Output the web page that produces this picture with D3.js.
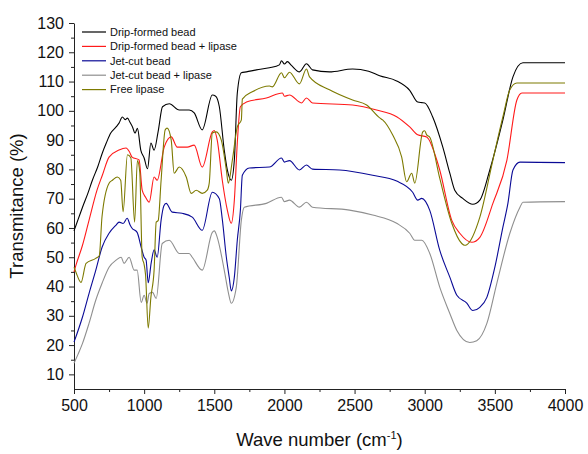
<!DOCTYPE html>
<meta charset='utf-8'>
<style>

body {
  margin: 0;
  background: #fff;
}

text {
  font-family: 'Liberation Sans', Arial, sans-serif;
  fill: #111;
}

path.spectrum {
  fill: none;
  stroke-width: 1.1px;
  stroke-linejoin: round;
}

.axis path, .axis line {
  stroke: #222;
}

</style>
<svg id='chart'></svg>
<script src="https://cdn.jsdelivr.net/npm/d3@7/dist/d3.min.js"></script>
<script>

// spectra: [wave number, transmitance]
const dripBead = [
  [500, 59], [530, 63], [560, 67], [600, 72], [631, 76.3], [670, 81], [702, 85.6], [730, 89],
  [762, 92.4], [800, 94.5], [821, 95.8], [845, 97.9], [865, 97], [881, 97.5], [900, 96], [917, 94.5],
  [935, 92.4], [952, 94], [976, 86.6], [1000, 83.9], [1024, 80.2], [1048, 89], [1071, 86.6], [1100, 93],
  [1131, 101.4], [1179, 102.4], [1250, 100.3], [1321, 100.3], [1357, 99.3], [1414, 93.5], [1486, 105.4], [1510, 105],
  [1536, 101.4], [1571, 86.6], [1593, 79.8], [1621, 76.3], [1643, 83.2], [1664, 106], [1693, 113], [1729, 113.3],
  [1800, 114], [1893, 114.7], [1964, 115.7], [1979, 117.1], [2000, 116], [2021, 116.8], [2050, 115.5], [2107, 113.3],
  [2157, 116.1], [2200, 114], [2321, 113.3], [2486, 114.3], [2600, 113.5], [2679, 112], [2800, 110.2], [2893, 107],
  [2950, 103], [2980, 102.8], [3000, 102.7], [3057, 97.9], [3129, 87.6], [3179, 78.7], [3214, 72.9], [3271, 70.1],
  [3343, 68.1], [3393, 69.5], [3464, 79.8], [3557, 96.8], [3629, 111.6], [3700, 116.4], [4000, 116.4]
];

const dripBeadLipase = [
  [500, 45], [514, 47.3], [560, 54], [607, 62.6], [664, 72.9], [702, 78], [750, 84.2], [821, 86.6],
  [871, 87.3], [895, 86], [914, 84.2], [964, 83.2], [986, 72.9], [1010, 70.5], [1036, 68.8], [1071, 77.4],
  [1093, 76.3], [1143, 87.6], [1193, 91.1], [1236, 87.6], [1307, 87.6], [1357, 88.3], [1414, 80.8], [1486, 92.8],
  [1500, 93.3], [1521, 90], [1557, 76.3], [1593, 66.1], [1621, 61.6], [1643, 69.5], [1664, 89], [1686, 101.4],
  [1729, 103], [1871, 104.4], [1986, 106.1], [2000, 105], [2036, 105.4], [2121, 102.7], [2157, 104.4], [2200, 102.7],
  [2486, 102], [2657, 100.3], [2800, 98], [2893, 94.5], [2950, 91.8], [3014, 91.1], [3086, 83.2], [3107, 79.8],
  [3193, 62.6], [3250, 58.2], [3336, 55.1], [3393, 56.8], [3486, 68.4], [3586, 83.2], [3657, 103.7], [3693, 106.1],
  [4000, 106.1]
];

const jetBead = [
  [500, 21], [560, 29.5], [607, 37.6], [655, 45.5], [700, 53.4], [750, 58.2], [800, 61], [821, 62],
  [850, 61.5], [879, 63.3], [900, 61], [914, 59.9], [950, 58.5], [979, 53.4], [1000, 50], [1014, 49],
  [1029, 41.3], [1050, 48], [1071, 52.5], [1093, 50], [1121, 62.7], [1140, 67.5], [1157, 68.4], [1200, 65.4],
  [1271, 65], [1343, 63.7], [1414, 59.2], [1486, 72.2], [1536, 70], [1557, 63], [1586, 50], [1607, 43],
  [1621, 38.5], [1643, 43.2], [1664, 55.8], [1686, 66], [1700, 78], [1750, 80.5], [1893, 80.8], [1979, 83.9],
  [2000, 82.5], [2036, 83], [2107, 79.8], [2157, 81.5], [2200, 80.1], [2393, 79.8], [2629, 78], [2800, 76],
  [2914, 72.2], [2950, 69.5], [2979, 70.1], [3036, 66], [3107, 52.4], [3179, 43.2], [3229, 37], [3300, 34.3],
  [3343, 31.8], [3393, 32.9], [3443, 36.3], [3500, 46.6], [3557, 60.2], [3593, 68.4], [3629, 79.8], [3679, 82.5],
  [4000, 82.3]
];

const jetBeadLipase = [
  [500, 13.8], [530, 17], [560, 20.5], [607, 27.4], [655, 35.3], [700, 41.1], [750, 46.6], [800, 49],
  [836, 50], [857, 47.9], [893, 50], [929, 45.6], [950, 45.6], [979, 34.6], [1000, 37], [1021, 34.3],
  [1036, 37.6], [1060, 38], [1086, 35.9], [1129, 54.7], [1179, 55.8], [1250, 51.3], [1321, 51.3], [1343, 50],
  [1414, 45.6], [1486, 58.5], [1500, 59], [1521, 56.8], [1571, 45.6], [1600, 38], [1621, 34.3], [1657, 39.8],
  [1693, 62.7], [1714, 67.1], [1871, 68.4], [1979, 70.5], [2000, 69], [2036, 69.5], [2107, 67.1], [2157, 68.8],
  [2200, 67.1], [2464, 66.1], [2629, 64.4], [2800, 61.6], [2893, 58.2], [2929, 55.8], [2979, 55.8], [3036, 51.3],
  [3107, 39.8], [3179, 30.8], [3229, 25], [3321, 20.9], [3371, 21.5], [3443, 27.4], [3514, 41.1], [3607, 58.2],
  [3679, 67.1], [3700, 68.8], [4000, 69]
];

const freeLipase = [
  [500, 46.6], [514, 44.9], [550, 41.4], [586, 47.9], [655, 49.6], [680, 50.5], [700, 64], [750, 75.3],
  [774, 76.3], [809, 77.4], [833, 76.3], [850, 65.5], [881, 85], [905, 84], [932, 62], [952, 83],
  [969, 79], [986, 50], [1000, 47.5], [1010, 44], [1029, 25.8], [1048, 36.3], [1071, 45.6], [1086, 62],
  [1100, 62.5], [1121, 76.3], [1150, 93.5], [1164, 94.1], [1193, 90], [1214, 78.7], [1250, 80.8], [1300, 77.4],
  [1336, 71.8], [1371, 72.9], [1414, 71.8], [1450, 72.9], [1464, 75.3], [1486, 92.4], [1514, 92.8], [1550, 90],
  [1586, 79.8], [1600, 75.3], [1629, 83.2], [1664, 94.5], [1693, 96.9], [1700, 104], [1771, 106.5], [1893, 108.5],
  [1914, 108.2], [1979, 113], [2000, 111.3], [2036, 113.2], [2107, 109.2], [2157, 114.3], [2179, 111.6], [2321, 107.2],
  [2486, 103.7], [2586, 102], [2679, 97.6], [2700, 96.9], [2771, 91.8], [2836, 84.2], [2871, 75.8], [2907, 78.7],
  [2929, 75.3], [2986, 92.8], [3000, 93.2], [3014, 91.8], [3036, 91], [3107, 77], [3193, 61.6], [3264, 54.7],
  [3285, 54.1], [3300, 54.3], [3393, 63.7], [3486, 83.2], [3557, 97.9], [3607, 107.2], [3657, 109.5], [4000, 109.5]
];

const seriesNames = ['Drip-formed bead', 'Drip-formed bead + lipase', 'Jet-cut bead', 'Jet-cut bead + lipase', 'Free lipase'];
const seriesColors = ['#000000', '#ff1a1a', '#0a0a96', '#8f8f8f', '#7d7a00'];
const seriesData = [dripBead, dripBeadLipase, jetBead, jetBeadLipase, freeLipase];

const xTicks = [500, 1000, 1500, 2000, 2500, 3000, 3500, 4000];
const yTicks = [10, 20, 30, 40, 50, 60, 70, 80, 90, 100, 110, 120, 130];

const width = 588;
const height = 454;
const margin = { top: 23, right: 23, bottom: 65, left: 74 };

const x = d3.scaleLinear().domain([500, 4000]).range([margin.left, width - margin.right]);
const y = d3.scaleLinear().domain([5, 130]).range([height - margin.bottom, margin.top]);

const svg = d3.select('#chart')
  .attr('width', width)
  .attr('height', height);

// minor ticks first, then the labelled ones on top
svg.append('g')
  .attr('class', 'axis')
  .attr('transform', 'translate(0,' + y.range()[0] + ')')
  .call(d3.axisBottom(x).tickValues(d3.range(750, 4000, 500)).tickSize(3).tickFormat(''))
  .call(g => g.select('.domain').remove());

svg.append('g')
  .attr('class', 'axis')
  .attr('transform', 'translate(' + margin.left + ',0)')
  .call(d3.axisLeft(y).tickValues(d3.range(15, 130, 10)).tickSize(3).tickFormat(''))
  .call(g => g.select('.domain').remove());

svg.append('g')
  .attr('class', 'axis')
  .attr('transform', 'translate(0,' + y.range()[0] + ')')
  .call(d3.axisBottom(x).tickValues(xTicks).tickFormat(d3.format('d')).tickSize(5).tickSizeOuter(0).tickPadding(6));

svg.append('g')
  .attr('class', 'axis')
  .attr('transform', 'translate(' + margin.left + ',0)')
  .call(d3.axisLeft(y).tickValues(yTicks).tickFormat(d3.format('d')).tickSize(5).tickSizeOuter(0).tickPadding(5));

svg.selectAll('.axis text')
  .style('font-size', '16px')
  .style('font-family', "'Liberation Sans', Arial, sans-serif")
  .attr('fill', '#111');

const line = d3.line()
  .x(d => x(d[0]))
  .y(d => y(d[1]))
  .curve(d3.curveMonotoneX);

svg.append('g')
  .selectAll('path')
  .data(seriesData)
  .join('path')
  .attr('class', 'spectrum')
  .attr('stroke', (d, i) => seriesColors[i])
  .attr('d', line);

// legend
const legend = svg.append('g')
  .attr('transform', 'translate(82,32)');

const legendRow = legend.selectAll('g')
  .data(seriesNames)
  .join('g')
  .attr('transform', (d, i) => 'translate(0,' + (i * 14.4) + ')');

legendRow.append('line')
  .attr('x1', 0)
  .attr('x2', 24)
  .attr('stroke', (d, i) => seriesColors[i])
  .attr('stroke-width', 1.2);

legendRow.append('text')
  .attr('x', 28)
  .attr('dy', '0.35em')
  .style('font-size', '11px')
  .attr('fill', '#222')
  .text(d => d);

// axis titles
const xTitle = svg.append('text')
  .attr('x', (margin.left + width - margin.right) / 2)
  .attr('y', 446)
  .attr('text-anchor', 'middle')
  .style('font-size', '18.5px');

xTitle.append('tspan').text('Wave number (cm');
xTitle.append('tspan').attr('dy', -7).style('font-size', '11px').text('-1');
xTitle.append('tspan').attr('dy', 7).text(')');

svg.append('text')
  .attr('transform', 'translate(23,' + ((margin.top + height - margin.bottom) / 2) + ') rotate(-90)')
  .attr('text-anchor', 'middle')
  .style('font-size', '18.5px')
  .text('Transmitance (%)');

</script>
